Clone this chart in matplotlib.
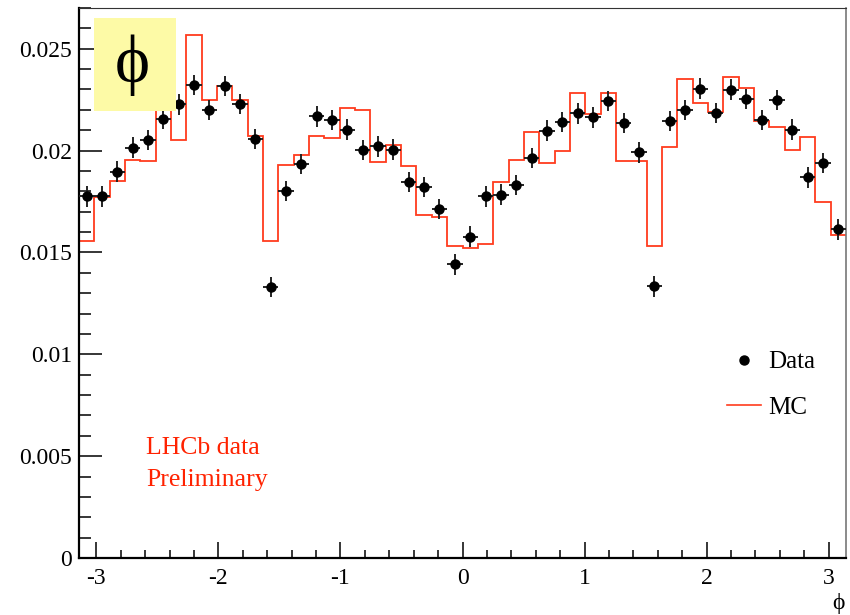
import numpy as np
import matplotlib
matplotlib.use("Agg")
import matplotlib.pyplot as plt
from matplotlib.lines import Line2D
from matplotlib.patches import Rectangle
from matplotlib.ticker import MultipleLocator, FuncFormatter

plt.rcParams['font.family'] = ['Liberation Serif', 'DejaVu Serif']
plt.rcParams['axes.unicode_minus'] = False

# 50 bins in phi over [-pi, pi]
n_bins = 50
edges = np.linspace(-np.pi, np.pi, n_bins + 1)
centers = 0.5 * (edges[:-1] + edges[1:])

data = [0.01775, 0.01775, 0.01897, 0.02015, 0.02052, 0.02157, 0.02227, 0.02322,
        0.02199, 0.02317, 0.02229, 0.02057, 0.01330, 0.01802, 0.01933, 0.02168,
        0.02150, 0.02103, 0.02004, 0.02021, 0.02005, 0.01845, 0.01820, 0.01714,
        0.01441, 0.01578, 0.01775, 0.01784, 0.01832, 0.01963, 0.02098, 0.02139,
        0.02183, 0.02163, 0.02242, 0.02134, 0.01991, 0.01333, 0.02144, 0.02200,
        0.02304, 0.02186, 0.02299, 0.02253, 0.02150, 0.02248, 0.02103, 0.01868,
        0.01938, 0.01613]
data_err = 0.0005

mc = [0.01555, 0.01771, 0.01853, 0.01954, 0.01951, 0.02200, 0.02052, 0.02569,
      0.02250, 0.02315, 0.02250, 0.02074, 0.01554, 0.01931, 0.01979, 0.02074,
      0.02062, 0.02209, 0.02200, 0.01943, 0.02025, 0.01925, 0.01686, 0.01673,
      0.01531, 0.01523, 0.01543, 0.01845, 0.01956, 0.02093, 0.01938, 0.01997,
      0.02281, 0.02180, 0.02281, 0.01951, 0.01951, 0.01531, 0.02020, 0.02352,
      0.02234, 0.02188, 0.02360, 0.02306, 0.02147, 0.02114, 0.02004, 0.02066,
      0.01747, 0.01587]

mc_color = '#ff3c1e'
text_red = '#ff2200'
phi = '\u03d5'

fig = plt.figure(figsize=(8.5, 6.15), dpi=100)
ax = fig.add_axes([79 / 850, 57 / 615, 767 / 850, 550 / 615])

ax.stairs(mc, edges, baseline=None, color=mc_color, lw=1.3, zorder=2)
ax.errorbar(centers, data, yerr=data_err, xerr=0.5 * (edges[1] - edges[0]),
            fmt='o', color='black', ms=6.5, elinewidth=1.4, capsize=0,
            ecolor='#222222', zorder=3)

ax.set_xlim(-np.pi, np.pi)
ax.set_ylim(0, 0.027)

ax.xaxis.set_major_locator(MultipleLocator(1))
ax.xaxis.set_minor_locator(MultipleLocator(0.2))
ax.yaxis.set_major_locator(MultipleLocator(0.005))
ax.yaxis.set_minor_locator(MultipleLocator(0.001))
ax.yaxis.set_major_formatter(FuncFormatter(lambda v, p: '%g' % round(v, 4)))
ax.xaxis.set_major_formatter(FuncFormatter(lambda v, p: '%d' % round(v)))

ax.tick_params(axis='both', which='both', direction='in', labelsize=17,
               top=False, right=False, width=1.1)
ax.tick_params(axis='x', which='major', length=11.5, pad=7)
ax.tick_params(axis='x', which='minor', length=5.8)
ax.tick_params(axis='y', which='major', length=16.5, pad=5)
ax.tick_params(axis='y', which='minor', length=8.6)

ax.spines['left'].set_linewidth(1.6)
ax.spines['bottom'].set_linewidth(1.6)
ax.spines['top'].set_linewidth(0.8)
ax.spines['top'].set_color('#333333')
ax.spines['right'].set_linewidth(1.2)
ax.spines['right'].set_color('#777777')

handles = [Line2D([], [], marker='o', ls='none', color='black', ms=6.5),
           Line2D([], [], color=mc_color, lw=1.2)]
ax.legend(handles, ['Data', 'MC'], loc='upper left',
          bbox_to_anchor=(727 / 850, 1 - 351 / 615), bbox_transform=fig.transFigure,
          frameon=False, fontsize=18, handlelength=1.36, handletextpad=0.3,
          borderpad=0, borderaxespad=0, labelspacing=0.92)

ax.text(0.088, 0.171, 'LHCb data\nPreliminary', transform=ax.transAxes,
        color=text_red, fontsize=18.5, ha='left', va='center',
        multialignment='left', linespacing=1.6)

# label box in the upper-left corner
fig.add_artist(Rectangle((94 / 850, 1 - 111 / 615), 82 / 850, 93 / 615,
                         transform=fig.transFigure, facecolor='#fdfaa6',
                         edgecolor='none', zorder=5))
fig.text(132 / 850, 1 - 65 / 615, phi, fontsize=48, ha='center', va='center',
         zorder=6)

fig.text(838 / 850, 1 - 603 / 615, phi, fontsize=17, ha='center', va='center')

fig.savefig('out.png', dpi=100)
